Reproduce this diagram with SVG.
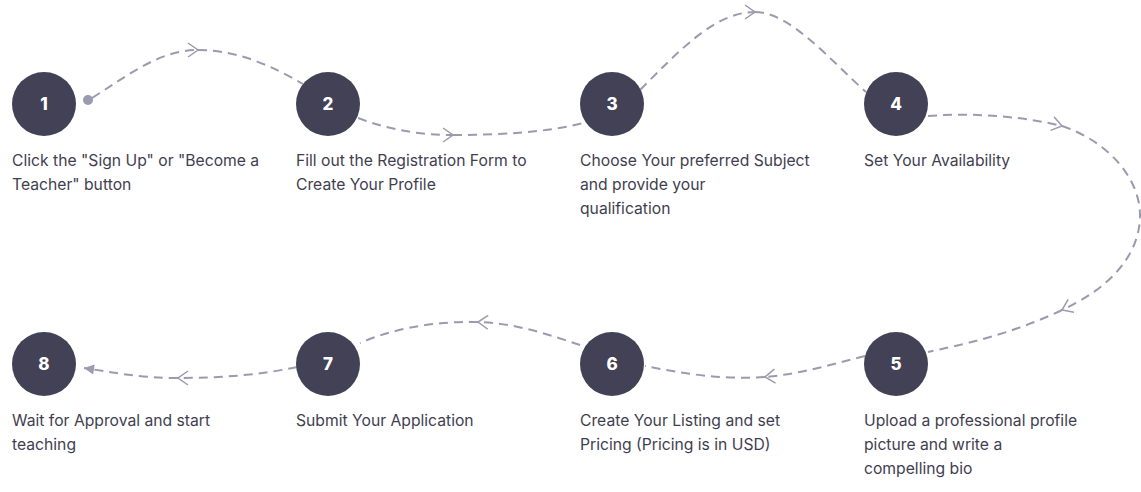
<svg xmlns="http://www.w3.org/2000/svg" width="1141" height="492" viewBox="0 0 1141 492">
<style>
.c{fill:#424156}
.n{fill:#ffffff;font-family:Inter,"Liberation Sans",sans-serif;font-weight:800;font-size:17px;text-anchor:middle}
.t{fill:#3f3e50;font-family:Inter,"Liberation Sans",sans-serif;font-size:15.7px}
.l{fill:none;stroke:#9c9aae;stroke-width:2;stroke-dasharray:9 6}
</style>
<defs>
<marker id="chev" markerUnits="userSpaceOnUse" viewBox="-12 -9 14 18" refX="0" refY="0" markerWidth="14" markerHeight="18" orient="auto">
<path d="M-10,-7 L0,0 L-10,7" fill="none" stroke="#9c9aae" stroke-width="1.5"/>
</marker>
<marker id="tri" markerUnits="userSpaceOnUse" viewBox="-1 -6 12 12" refX="10" refY="0" markerWidth="12" markerHeight="12" orient="auto">
<path d="M0,-5 L10,0 L0,5 Z" fill="#9c9aae"/>
</marker>
</defs>
<rect width="1141" height="492" fill="#ffffff"/>
<g id="connectors">
<circle cx="88" cy="100" r="5" fill="#9c9aae"/>
<path class="l" d="M92,98 C130,74 160,50 198,50" marker-end="url(#chev)"/>
<path class="l" d="M198,50 C240,50 275,68 303,84"/>
<path class="l" d="M358,118 C390,130 420,135 453,135" marker-end="url(#chev)"/>
<path class="l" d="M453,135 C500,135 550,132 583,123"/>
<path class="l" d="M640,90 C680,50 715,12 755,12" marker-end="url(#chev)"/>
<path class="l" d="M755,12 C790,12 830,60 866,92"/>
<path class="l" d="M928,116 C980,112 1030,118 1062,126" marker-end="url(#chev)"/>
<path class="l" d="M1062,126 C1110,142 1140,180 1140,215 C1140,255 1110,288 1062,310" marker-end="url(#chev)"/>
<path class="l" d="M1062,310 C1010,335 960,345 928,352"/>
<path class="l" d="M865,356 C830,365 800,374 765,377" marker-end="url(#chev)"/>
<path class="l" d="M765,377 C720,380 680,373 645,366"/>
<path class="l" d="M580,345 C550,335 515,323 478,322" marker-end="url(#chev)"/>
<path class="l" d="M478,322 C430,321 390,330 360,343"/>
<path class="l" d="M297,367 C260,375 220,378 178,378" marker-end="url(#chev)"/>
<path class="l" d="M178,378 C140,378 110,372 84,368" marker-end="url(#tri)"/>
</g>
<g id="node1"><circle class="c" cx="44" cy="104" r="32"/><text class="n" x="44" y="110">1</text>
<text class="t" x="12" y="166">Click the "Sign Up" or "Become a</text><text class="t" x="12" y="190">Teacher" button</text></g>
<g id="node2"><circle class="c" cx="328" cy="104" r="32"/><text class="n" x="328" y="110">2</text>
<text class="t" x="296" y="166">Fill out the Registration Form to</text><text class="t" x="296" y="190">Create Your Profile</text></g>
<g id="node3"><circle class="c" cx="612" cy="104" r="32"/><text class="n" x="612" y="110">3</text>
<text class="t" x="580" y="166">Choose Your preferred Subject</text><text class="t" x="580" y="190">and provide your</text><text class="t" x="580" y="214">qualification</text></g>
<g id="node4"><circle class="c" cx="896" cy="104" r="32"/><text class="n" x="896" y="110">4</text>
<text class="t" x="864" y="166">Set Your Availability</text></g>
<g id="node5"><circle class="c" cx="896" cy="364" r="32"/><text class="n" x="896" y="370">5</text>
<text class="t" x="864" y="426">Upload a professional profile</text><text class="t" x="864" y="450">picture and write a</text><text class="t" x="864" y="474">compelling bio</text></g>
<g id="node6"><circle class="c" cx="612" cy="364" r="32"/><text class="n" x="612" y="370">6</text>
<text class="t" x="580" y="426">Create Your Listing and set</text><text class="t" x="580" y="450">Pricing (Pricing is in USD)</text></g>
<g id="node7"><circle class="c" cx="328" cy="364" r="32"/><text class="n" x="328" y="370">7</text>
<text class="t" x="296" y="426">Submit Your Application</text></g>
<g id="node8"><circle class="c" cx="44" cy="364" r="32"/><text class="n" x="44" y="370">8</text>
<text class="t" x="12" y="426">Wait for Approval and start</text><text class="t" x="12" y="450">teaching</text></g>
</svg>
